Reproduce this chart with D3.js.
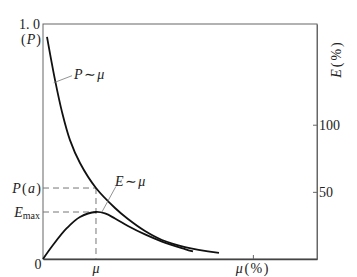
<!DOCTYPE html>
<html><head><meta charset="utf-8">
<script src="https://cdn.jsdelivr.net/npm/d3@7"></script>
<style>
html,body{margin:0;padding:0;background:#fff;}
svg text{font-family:"Liberation Serif","DejaVu Serif",serif;fill:#222;}
</style></head>
<body><svg id="c" width="357" height="277"></svg>
<script>
// x in arbitrary % units (0..100), P in 0..1, E in % (right axis)
const pX = [1.46, 4.38, 6.93, 9.85, 13.5, 19.34, 26.28, 31.02, 37.23, 43.43, 51.82, 64.23];
const pVal = [0.945, 0.762, 0.626, 0.506, 0.4085, 0.302, 0.217, 0.170, 0.119, 0.081, 0.051, 0.026];
const eX = [0, 3.65, 8.76, 13.5, 19.34, 22.63, 26.28, 31.02, 37.23, 43.43, 51.82, 54.74];
const eVal = [0, 10.4, 23.1, 31.3, 35.0, 33.9, 30.2, 24.6, 18.3, 13.0, 7.4, 5.6];
const muOpt = 19.34;
const pAt = 0.302;
const eMaxP = 0.2;
const rightTicks = [50, 100];
const bottomTickPct = 76.6;

const svg = d3.select("#c");
const L = 43, R = 317, T = 24, B = 259;
const x = d3.scaleLinear().domain([0, 100]).range([L, R]);
const yP = d3.scaleLinear().domain([0, 1]).range([B, T]);
const yE = d3.scaleLinear().domain([0, 175]).range([B, T]);

// frame
svg.append("rect").attr("x", L).attr("y", T).attr("width", R - L).attr("height", B - T)
  .attr("fill", "none").attr("stroke", "#666").attr("stroke-width", 1);

// right axis
const ra = svg.append("g").attr("transform", `translate(${R},0)`)
  .call(d3.axisRight(yE).tickValues(rightTicks).tickSizeInner(-4).tickSizeOuter(0).tickPadding(2));
ra.select(".domain").attr("stroke", "#666");
ra.selectAll("line").attr("stroke", "#666");
ra.selectAll("text").attr("font-size", 14).attr("fill", "#222").style("font-family", "Liberation Serif");

// bottom axis
const ba = svg.append("g").attr("transform", `translate(0,${B})`)
  .call(d3.axisBottom(x).tickValues([bottomTickPct]).tickSizeInner(-4).tickSizeOuter(0).tickFormat(() => ""));
ba.select(".domain").attr("stroke", "#444").attr("stroke-width", 1.3);
ba.selectAll("line").attr("stroke", "#666");

// dashed guides
const dash = "6,4";
svg.append("line").attr("x1", L).attr("x2", x(muOpt)).attr("y1", yP(pAt)).attr("y2", yP(pAt))
  .attr("stroke", "#777").attr("stroke-dasharray", dash);
svg.append("line").attr("x1", L).attr("x2", x(muOpt)).attr("y1", yP(eMaxP)).attr("y2", yP(eMaxP))
  .attr("stroke", "#777").attr("stroke-dasharray", dash);
svg.append("line").attr("x1", x(muOpt)).attr("x2", x(muOpt)).attr("y1", yP(pAt)).attr("y2", B)
  .attr("stroke", "#777").attr("stroke-dasharray", dash);

// curves
const curve = d3.curveCatmullRom.alpha(0.5);
const lineP = d3.line().x((d, i) => x(pX[i])).y(d => yP(d)).curve(curve);
const lineE = d3.line().x((d, i) => x(eX[i])).y(d => yE(d)).curve(curve);
svg.append("path").attr("d", lineP(pVal)).attr("fill", "none").attr("stroke", "#111").attr("stroke-width", 1.8);
svg.append("path").attr("d", lineE(eVal)).attr("fill", "none").attr("stroke", "#111").attr("stroke-width", 1.8);

// leaders
svg.append("line").attr("x1", x(3.9)).attr("y1", yP(0.75)).attr("x2", x(10.6)).attr("y2", yP(0.78))
  .attr("stroke", "#777").attr("stroke-width", 0.8);
svg.append("line").attr("x1", x(21.5)).attr("y1", yE(35)).attr("x2", x(26.6)).attr("y2", yE(54))
  .attr("stroke", "#777").attr("stroke-width", 0.8);

function label(xp, yp, anchor, parts, size, ls) {
  const t = svg.append("text").attr("x", xp).attr("y", yp).attr("text-anchor", anchor)
    .attr("dominant-baseline", "central").attr("font-size", size || 14);
  if (ls) t.attr("letter-spacing", ls);
  parts.forEach(p => {
    const s = t.append("tspan").text(p.t);
    if (p.i) s.attr("font-style", "italic");
    if (p.sub) s.attr("font-size", 10).attr("dy", 3);
  });
  return t;
}
label(40, yP(1), "end", [{t: "1. 0"}], 14);
label(42, yP(1) + 15, "end", [{t: "("}, {t: "P", i: 1}, {t: ")"}], 14, 1);
label(42, yP(pAt), "end", [{t: "P", i: 1}, {t: "("}, {t: "a", i: 1}, {t: ")"}], 14, 1.2);
label(40, yP(eMaxP), "end", [{t: "E", i: 1}, {t: "max", sub: 1}], 14);
label(38, B + 5, "middle", [{t: "0"}], 14);
label(x(muOpt), B + 9, "middle", [{t: "μ", i: 1}], 14);
label(x(bottomTickPct), B + 9, "middle", [{t: "μ", i: 1}, {t: "(%)"}], 14, 1.5);
label(74, 74, "start", [{t: "P", i: 1}, {t: "∼"}, {t: "μ", i: 1}], 14, 1.5);
label(115, 181, "start", [{t: "E", i: 1}, {t: "∼"}, {t: "μ", i: 1}], 14, 1.5);
label(0, 0, "middle", [{t: "E", i: 1}, {t: "(%)"}], 14, 2)
  .attr("transform", "translate(336,59) rotate(-90)");
</script></body></html>
